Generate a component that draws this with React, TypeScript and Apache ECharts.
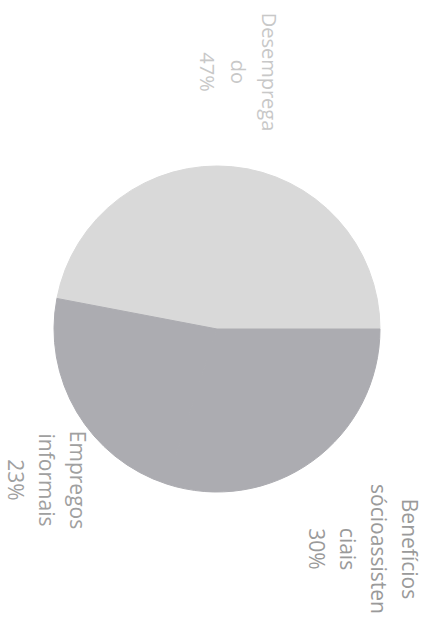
import React, { useEffect, useRef } from "react";
import * as echarts from "echarts";

// Data (labels are wrapped as in the picture)
const categories = ["Desemprega\ndo", "Benefícios\nsócioassisten\nciais", "Empregos\ninformais"];
const values = [47, 30, 23];
const sliceColors = ["#d9d9d9", "#acacb1", "#acacb1"];
const labelColors = ["#c8c8c8", "#9a9a9a", "#a0a0a0"];
// label block centres (page pixels)
const labelCentres: [number, number][] = [
  [238, 72],
  [363, 549],
  [47, 480],
];

export default function App() {
  const ref = useRef<HTMLDivElement>(null);
  useEffect(() => {
    if (!ref.current) return;
    const chart = echarts.init(ref.current, undefined, { renderer: "svg" });
    chart.setOption({
      animation: false,
      backgroundColor: "#ffffff",
      series: [
        {
          type: "pie",
          center: [217, 329],
          radius: 163,
          startAngle: 169.2,
          clockwise: true,
          avoidLabelOverlap: false,
          label: {
            show: true,
            position: "outside",
            rotate: -90,
            formatter: "{b}\n{c}%",
            fontFamily: "Open Sans",
            fontSize: 21,
            lineHeight: 31,
            align: "center",
          },
          labelLine: { show: false },
          labelLayout: (params: any) => {
            const c = labelCentres[params.dataIndex];
            return {
              x: c[0],
              y: c[1],
              align: "center",
              verticalAlign: "middle",
              rotate: -90,
            };
          },
          emphasis: { disabled: true },
          data: categories.map((name, i) => ({
            name,
            value: values[i],
            itemStyle: { color: sliceColors[i], borderColor: sliceColors[i], borderWidth: 1 },
            label: { color: labelColors[i], fontSize: i === 0 ? 20 : 21 },
          })),
        },
      ],
    });
    return () => chart.dispose();
  }, []);
  return (
    <div
      ref={ref}
      style={{ position: "fixed", left: 0, top: 0, width: 430, height: 633, background: "#fff" }}
    />
  );
}
